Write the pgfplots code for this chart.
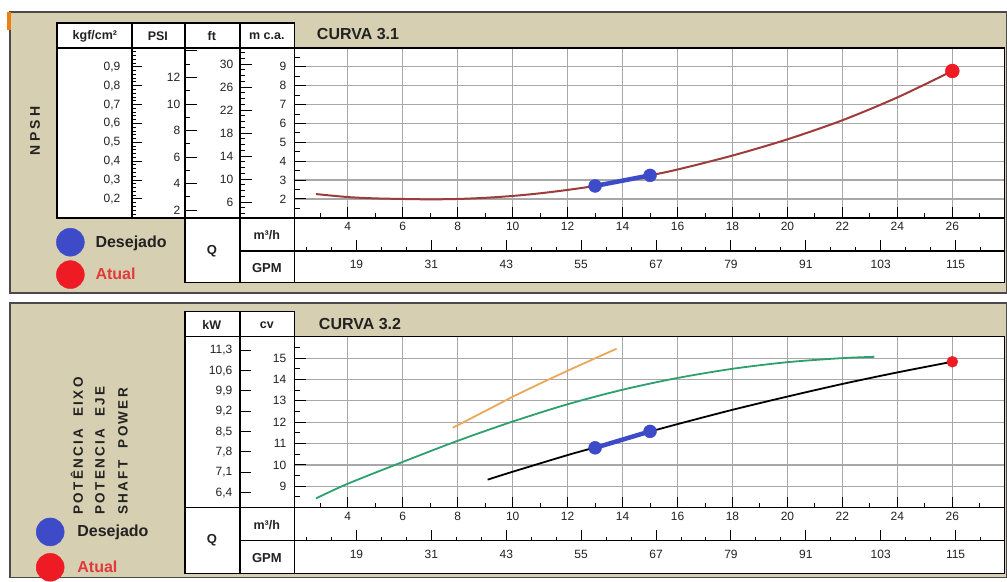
\documentclass[border=0pt]{standalone}
\usepackage{fontspec}
\setmainfont{Liberation Sans}
\usepackage{pgfplots}
\pgfplotsset{compat=1.18}
\definecolor{tanbg}{HTML}{D7CFB1}
\definecolor{panelborder}{HTML}{4A4A4A}
\definecolor{gridgray}{HTML}{A8A8A8}
\definecolor{npshred}{HTML}{9E3B3B}
\definecolor{pgreen}{HTML}{2DA06E}
\definecolor{porange}{HTML}{E9A85A}
\definecolor{desblue}{HTML}{3D4BC9}
\definecolor{atualred}{HTML}{EE1B24}
\definecolor{atualtxt}{HTML}{E03A3A}
\definecolor{txt}{HTML}{222222}
\newcommand{\ticksize}{\fontsize{12}{12}\selectfont}
\newcommand{\hdr}{\bfseries\fontsize{12.5}{13}\selectfont}
\newcommand{\legfont}{\bfseries\fontsize{16}{17}\selectfont}
\pgfplotsset{
  every axis/.append style={scale only axis, /pgf/number format/assume math mode=true,
    tick label style={font=\ticksize, text=txt}},
  sidecol/.style={anchor=south west, width=10pt, xmin=0, xmax=1,
    axis y line=left, axis x line=none, axis line style={-, line width=1.2pt},
    tick align=inside, tick style={black, line width=1pt}},
  gpmrow/.style={anchor=south west, width=710pt, height=20pt,
    xmin=9.114, xmax=122.796, ymin=0, ymax=1,
    axis x line=bottom, axis y line=none, axis line style={-, line width=1.2pt},
    xtick={19,31,...,115}, minor xtick={11,15,...,119},
    tick align=inside, major tick length=11pt, minor tick length=4pt,
    tick style={black, line width=1pt}, xticklabel style={yshift=-6pt}},
  mainplot/.style={anchor=south west, width=710pt,
    xmin=2.07, xmax=27.89,
    xtick={4,6,...,26}, minor xtick={3,5,...,27},
    xtick pos=bottom, ytick pos=left, tick align=inside,
    major tick length=11pt, minor tick length=5pt,
    tick style={black, line width=1pt},
    grid=major, major grid style={draw=gridgray, line width=1.2pt},
    axis line style={line width=1.3pt, black},
    xticklabel style={yshift=-1pt}, yticklabel style={xshift=-5pt}}
}
\begin{document}
\begin{tikzpicture}
\begin{scope}[x=1pt,y=-1pt]
\path (0,0) rectangle (1007,578);
% ---------- top panel background
\fill[tanbg] (10,12) rectangle (1007,293);
\draw[panelborder, line width=1.5pt] (10,12) rectangle (1007,293);
\fill[orange!75!brown] (7,12) rectangle (11,30);
\fill[white] (57,23) rectangle (295,218);
\fill[white] (185,218) rectangle (1005,283);
\fill[white] (295,48) rectangle (1005,218);
% ---------- bottom panel background
\fill[tanbg] (10,303) rectangle (1007,578);
\draw[panelborder, line width=1.5pt] (10,303) rectangle (1007,578);
\fill[white] (185,312) rectangle (295,508);
\fill[white] (185,508) rectangle (1005,574);
\fill[white] (295,337) rectangle (1005,508);
\end{scope}

% ================= TOP PANEL AXES =================
\begin{axis}[mainplot, at={(295pt,-218pt)}, height=170pt,
  ymin=1, ymax=10, ytick={2,...,9}, minor ytick={1.5,2.5,...,9.5},
  legend style={at={(-0.3366,-0.0588)}, anchor=north west, draw=none, fill=none,
    inner sep=0pt, row sep=4pt, font=\legfont, cells={anchor=west},
    /tikz/every odd column/.style={column sep=9pt}}]
\addplot[npshred, line width=2pt, smooth, forget plot] coordinates {
(2.84,2.26) (4,2.10) (5,2.03) (6,2.00) (7,1.98) (8,2.00) (9,2.06) (10,2.16)
(11,2.30) (12,2.48) (13,2.69) (14,2.95) (15,3.25) (16,3.56) (18,4.30)
(20,5.16) (22,6.17) (24,7.38) (26,8.78)};
\addplot[desblue, line width=4.5pt, forget plot] coordinates {(13,2.69) (15,3.25)};
\addplot[desblue, only marks, mark=*, mark size=6.5pt, forget plot] coordinates {(13,2.69) (15,3.25)};
\addplot[atualred, only marks, mark=*, mark size=7pt, forget plot] coordinates {(26,8.78)};
\addlegendimage{legend image code/.code={\fill[desblue] (14pt,0pt) circle (14pt);}}
\addlegendentry{\textcolor{txt}{Desejado}}
\addlegendimage{legend image code/.code={\fill[atualred] (14pt,0pt) circle (14pt);}}
\addlegendentry{\textcolor{atualtxt}{Atual}}
\end{axis}

\begin{axis}[gpmrow, at={(295pt,-251pt)}]
\end{axis}

% kgf/cm2 column
\begin{axis}[sidecol, at={(132pt,-218pt)}, height=170pt, ymin=0.1, ymax=1.0,
  ytick={0.2,0.3,0.4,0.5,0.6,0.7,0.8,0.9},
  yticklabels={{0,2},{0,3},{0,4},{0,5},{0,6},{0,7},{0,8},{0,9}},
  minor ytick={0.12,0.14,...,0.99},
  major tick length=10pt, minor tick length=4pt, yticklabel style={xshift=-8pt}]
\end{axis}
% PSI column
\begin{axis}[sidecol, at={(185pt,-218pt)}, height=170pt, ymin=1.4223, ymax=14.223,
  ytick={2,4,6,8,10,12,14}, yticklabels={2,4,6,8,10,12,{}},
  minor ytick={1,...,14},
  major tick length=12pt, minor tick length=5pt, yticklabel style={xshift=-1pt}]
\end{axis}
% ft column
\begin{axis}[sidecol, at={(240pt,-218pt)}, height=170pt, ymin=3.2808, ymax=32.808,
  ytick={6,10,...,30}, minor ytick={4,...,32},
  major tick length=12pt, minor tick length=5pt, yticklabel style={xshift=-3pt}]
\end{axis}

% ================= BOTTOM PANEL AXES =================
\begin{axis}[mainplot, at={(295pt,-508pt)}, height=171pt,
  ymin=8, ymax=16, ytick={9,...,15}, minor ytick={8.5,9.5,...,15.5},
  legend style={at={(-0.365,-0.058)}, anchor=north west, draw=none, fill=none,
    inner sep=0pt, row sep=7pt, font=\legfont, cells={anchor=west},
    /tikz/every odd column/.style={column sep=11pt}}]
\addplot[porange, line width=1.8pt, smooth, forget plot] coordinates {
(7.82,11.74) (9,12.52) (10,13.19) (11,13.81) (12,14.41) (13,14.99) (13.78,15.44)};
\addplot[pgreen, line width=1.8pt, smooth, forget plot] coordinates {
(2.84,8.43) (4,9.12) (6,10.14) (8,11.13) (10,12.03) (12,12.84) (14,13.52)
(16,14.07) (18,14.50) (20,14.81) (22,15.00) (23.16,15.06)};
\addplot[black, line width=1.8pt, smooth, forget plot] coordinates {
(9.09,9.31) (10,9.68) (12,10.46) (13,10.82) (14,11.20) (15,11.56) (16,11.91)
(18,12.58) (20,13.20) (22,13.79) (24,14.33) (26,14.83)};
\addplot[desblue, line width=4.5pt, forget plot] coordinates {(13,10.80) (15,11.57)};
\addplot[desblue, only marks, mark=*, mark size=6.5pt, forget plot] coordinates {(13,10.80) (15,11.57)};
\addplot[atualred, only marks, mark=*, mark size=5.5pt, forget plot] coordinates {(26,14.83)};
\addlegendimage{legend image code/.code={\fill[desblue] (14pt,0pt) circle (14pt);}}
\addlegendentry{\textcolor{txt}{Desejado}}
\addlegendimage{legend image code/.code={\fill[atualred] (14pt,0pt) circle (14pt);}}
\addlegendentry{\textcolor{atualtxt}{Atual}}
\end{axis}

\begin{axis}[gpmrow, at={(295pt,-541pt)}]
\end{axis}

% kW column
\begin{axis}[sidecol, at={(240pt,-508pt)}, height=171pt, ymin=5.884, ymax=11.768,
  ytick={6.4,7.1,7.8,8.5,9.2,9.9,10.6,11.3},
  yticklabels={{6,4},{7,1},{7,8},{8,5},{9,2},{9,9},{10,6},{11,3}},
  major tick length=11pt, yticklabel style={xshift=-4pt}]
\end{axis}

% ================= LINES AND TEXT =================
\begin{scope}[x=1pt,y=-1pt]
\begin{scope}[black, line width=1.4pt]
% top table
\draw (57,23) rectangle (295,218);
\draw (57,48) -- (295,48);
\foreach \xx in {132,185,240} \draw (\xx,23) -- (\xx,218);
\draw (185,218) rectangle (1005,283);
\draw (240,218) -- (240,283);
\draw (295,218) -- (295,283);
\draw (240,251) -- (1005,251);
% bottom table
\draw (185,312) rectangle (295,508);
\draw (185,337) -- (295,337);
\draw (240,312) -- (240,508);
\draw (185,508) rectangle (1005,574);
\draw (240,508) -- (240,574);
\draw (295,508) -- (295,574);
\draw (240,541) -- (1005,541);
\end{scope}
% headers top
\node[text=txt] at (95,36) {\hdr kgf/cm²};
\node[text=txt] at (158,36) {\hdr PSI};
\node[text=txt] at (212,36) {\hdr ft};
\node[text=txt] at (267,36) {\hdr m c.a.};
\node[text=txt, anchor=west, inner sep=0pt] at (317,34) {\bfseries\fontsize{16}{17}\selectfont CURVA 3.1};
\node[text=txt] at (212,251) {\bfseries\fontsize{13}{14}\selectfont Q};
\node[text=txt] at (267,235) {\hdr m³/h};
\node[text=txt] at (267,268) {\bfseries\fontsize{13}{14}\selectfont GPM};
\node[text=txt, rotate=90] at (35,131) {\bfseries\fontsize{14}{15}\selectfont\addfontfeatures{LetterSpace=25}NPSH};
% headers bottom
\node[text=txt] at (212,325) {\hdr kW};
\node[text=txt] at (267,325) {\hdr cv};
\node[text=txt, anchor=west, inner sep=0pt] at (319,324) {\bfseries\fontsize{16}{17}\selectfont CURVA 3.2};
\node[text=txt] at (212,541) {\bfseries\fontsize{13}{14}\selectfont Q};
\node[text=txt] at (267,525) {\hdr m³/h};
\node[text=txt] at (267,558) {\bfseries\fontsize{13}{14}\selectfont GPM};
\foreach \xx/\tt in {77/{POTÊNCIA\ \ EIXO},100/{POTENCIA\ \ EJE},123/{SHAFT\ \ POWER}}
  \node[text=txt, rotate=90, anchor=west, inner sep=0pt] at (\xx,515) {\bfseries\fontsize{13.5}{14}\selectfont\addfontfeatures{LetterSpace=17}\tt};
\end{scope}
\end{tikzpicture}
\end{document}
